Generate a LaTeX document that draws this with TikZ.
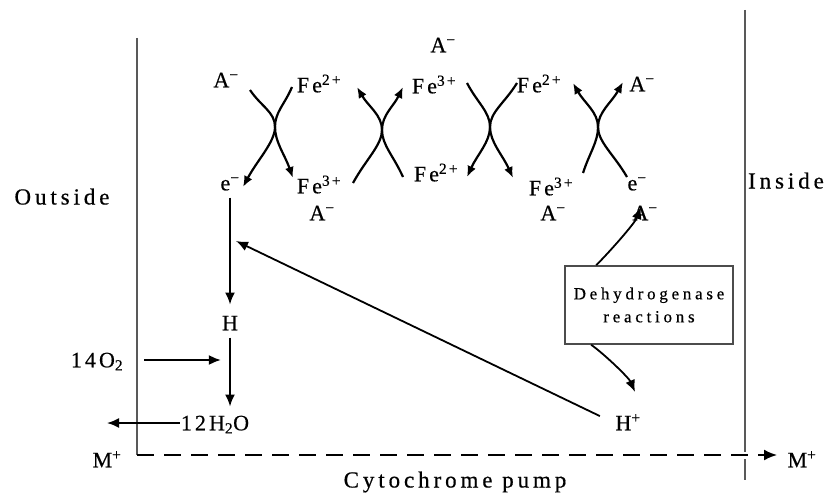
\documentclass[tikz,border=0pt]{standalone}
\usepackage{fontspec}
\setmainfont{Liberation Serif}
\newfontfamily\spc[LetterSpace=14,FakeBold=0.5]{Liberation Serif}
\newfontfamily\spcw[LetterSpace=17,FakeBold=0.5]{Liberation Serif}
\newfontfamily\spcb[LetterSpace=22,FakeBold=0.5]{Liberation Serif}
\usetikzlibrary{arrows.meta,calc}
\tikzset{
  lab/.style={font=\fontsize{22}{26}\selectfont\spc, inner sep=1pt, text height=14.6pt, text depth=0pt},
  word/.style={font=\fontsize{23}{27}\selectfont\spcw, inner sep=1pt, text height=15pt, text depth=0pt},
  arr/.style={line width=1.8pt, -{Latex[length=12pt,width=10pt]}},
  arm/.style={line width=2.2pt, -{Latex[length=11pt,width=9pt]}},
  wall/.style={line width=1.8pt, draw=black!65},
  dsh/.style={line width=1.8pt, dash pattern=on 17pt off 10pt, -{Latex[length=13pt,width=11pt]}},
  box/.style={draw=black!70, line width=1.6pt, minimum width=168pt, minimum height=78pt,
    align=center, inner sep=2pt, font=\fontsize{17}{23}\selectfont\spcb},
}
\newcommand\xarm[4]{\draw[#1] (#2) .. controls ($(#2)!0.45!(#3)$) and ($(#3)!15pt!(#3|-#2)$) .. (#3)
  .. controls ($(#3)!15pt!(#3|-#4)$) and ($(#4)!0.45!(#3)$) .. (#4);}
\begin{document}
\begin{tikzpicture}[x=1pt,y=-1pt]
\useasboundingbox (0,0) rectangle (827,495);
% membranes
\draw[wall] (137,38) -- (137,455);
\draw[wall] (745,10) -- (745,452);
\draw[wall] (745,459) -- (745,480);
% labels
\node[word] (out) at (62,197) {Outside};
\node[word] (ins) at (786,181) {Inside};
\node[lab] (A1) at (226,80) {A\textsuperscript{−}};
\node[lab] (Fe1t) at (319,85) {Fe\textsuperscript{2+}};
\node[lab] (eL) at (230,183) {e\textsuperscript{−}};
\node[lab] (Fe1b) at (319,186) {Fe\textsuperscript{3+}};
\node[lab] (A2) at (322,213) {A\textsuperscript{−}};
\node[lab] (A3) at (443,45) {A\textsuperscript{−}};
\node[lab] (Fe2t) at (434,86) {Fe\textsuperscript{3+}};
\node[lab] (Fe2b) at (436,174) {Fe\textsuperscript{2+}};
\node[lab] (Fe3t) at (539,85) {Fe\textsuperscript{2+}};
\node[lab] (Fe3b) at (551,188) {Fe\textsuperscript{3+}};
\node[lab] (A4) at (553,213) {A\textsuperscript{−}};
\node[lab] (A5) at (642,84) {A\textsuperscript{−}};
\node[lab] (eR) at (637,183) {e\textsuperscript{−}};
\node[lab] (A6) at (645,213) {A\textsuperscript{−}};
\node[lab] (H) at (230,323) {H};
\node[lab] (O2) at (97,360) {14O\textsubscript{2}};
\node[lab] (W) at (215,423) {12H\textsubscript{2}O};
\node[lab] (Hp) at (628,423) {H\textsuperscript{+}};
\node[lab] (M1) at (107,460) {M\textsuperscript{+}};
\node[lab] (M2) at (802,460) {M\textsuperscript{+}};
\node[word] (cp) at (455,480) {Cytochrome pump};
\node[box] (dh) at (649,305) {Dehydrogenase\\reactions};
% coordinates of the reaction arms
\coordinate (c1) at (275,127); \coordinate (a1s) at (250,90);  \coordinate (a1e) at (243,187);
\coordinate (b1s) at (292,87);  \coordinate (b1e) at (293,178);
\coordinate (c2) at (382,130); \coordinate (a2s) at (353,183); \coordinate (a2e) at (357,87);
\coordinate (b2s) at (403,177); \coordinate (b2e) at (403,87);
\coordinate (c3) at (490,127); \coordinate (a3s) at (467,83);  \coordinate (a3e) at (467,177);
\coordinate (b3s) at (517,83);  \coordinate (b3e) at (513,178);
\coordinate (c4) at (598,127); \coordinate (a4s) at (583,173); \coordinate (a4e) at (573,83);
\coordinate (b4s) at (627,177); \coordinate (b4e) at (623,82);
\xarm{arm}{a1s}{c1}{a1e}
\xarm{arm}{b1s}{c1}{b1e}
\xarm{arm}{a2s}{c2}{a2e}
\xarm{arm}{b2s}{c2}{b2e}
\xarm{arm}{a3s}{c3}{a3e}
\xarm{arm}{b3s}{c3}{b3e}
\xarm{arm}{a4s}{c4}{a4e}
\xarm{arm}{b4s}{c4}{b4e}
% other coordinates
\coordinate (dtip) at (236,241);
\coordinate (wout) at (107,423);
\coordinate (atip) at (641,207);
\coordinate (hptip) at (635,392);
\coordinate (dl) at (137,455);
\coordinate (dr) at (777,455);
% connectors
\draw[arr, shorten <=6pt, shorten >=10pt] (eL.south) -- (H.north);
\draw[arr, shorten <=6pt, shorten >=8pt] (H.south) -- (H.south |- W.north);
\draw[arr, shorten <=20pt] (O2.east) -- (O2.east -| H.west);
\draw[arr] (W.west) -- (wout);
\draw[arr, shorten <=16pt] (Hp.west) -- (dtip);
\draw[arr] ($(dh.north west)+(32,0)$) .. controls +(14,-14) and +(-6,16) .. (atip);
\draw[arr] ($(dh.south west)+(27,0)$) .. controls +(14,10) and +(-6,-14) .. (hptip);
\draw[dsh] (dl) -- (dr);
\end{tikzpicture}
\end{document}
